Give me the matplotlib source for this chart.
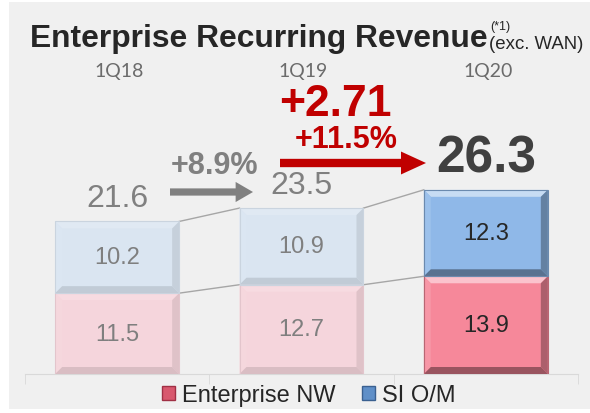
import matplotlib
matplotlib.use("Agg")
import matplotlib.pyplot as plt
from matplotlib.patches import Polygon, Rectangle, Patch
import numpy as np

# ---- data ----
categories = ["1Q18", "1Q19", "1Q20"]
enterprise_nw = [11.5, 12.7, 13.9]
si_om = [10.2, 10.9, 12.3]
totals = [21.6, 23.5, 26.3]
growth_1 = "+8.9%"
growth_2_abs = "+2.71"
growth_2_pct = "+11.5%"
series_names = ["Enterprise NW", "SI O/M"]

W, H = 590, 414
fig = plt.figure(figsize=(W / 100, H / 100), dpi=100)
fig.patch.set_facecolor("white")
fig.add_artist(Rectangle((9 / W, 4 / H), 1 - 9 / W, 1 - 7 / H, transform=fig.transFigure,
                         facecolor="#f0f0f0", edgecolor="none", zorder=0))

PX_PER_UNIT = 7.03
ax_left, ax_right, ax_bottom_px, ax_top_px = 25, 578, 375, 60
ymax = (ax_bottom_px - ax_top_px) / PX_PER_UNIT
ax = fig.add_axes([ax_left / W, (H - ax_bottom_px) / H, (ax_right - ax_left) / W,
                   (ax_bottom_px - ax_top_px) / H])
ax.set_facecolor("none")
ax.set_xlim(-0.5, 2.5)
ax.set_ylim(0, ymax)
cat_px = (ax_right - ax_left) / 3.0

def mix(c, other, t):
    c = np.array(matplotlib.colors.to_rgb(c))
    o = np.array(matplotlib.colors.to_rgb(other))
    return tuple(c * (1 - t) + o * t)

def bevel(x0, x1, y0, y1, color, strength):
    bx = 7 / cat_px
    by = 7 / PX_PER_UNIT
    face = Rectangle((x0, y0), x1 - x0, y1 - y0, facecolor=color, edgecolor="none", zorder=2)
    ax.add_patch(face)
    top = mix(color, "white", 0.5 * strength)
    left = mix(color, "white", 0.12 * strength)
    right = mix(color, "black", 0.3 * strength)
    bottom = mix(color, "black", 0.38 * strength)
    polys = [
        ([(x0, y1), (x1, y1), (x1 - bx, y1 - by), (x0 + bx, y1 - by)], top),
        ([(x0, y0), (x0, y1), (x0 + bx, y1 - by), (x0 + bx, y0 + by)], left),
        ([(x1, y0), (x1, y1), (x1 - bx, y1 - by), (x1 - bx, y0 + by)], right),
        ([(x0, y0), (x1, y0), (x1 - bx, y0 + by), (x0 + bx, y0 + by)], bottom),
    ]
    for pts, col in polys:
        ax.add_patch(Polygon(pts, closed=True, facecolor=col, edgecolor="none", zorder=3))
    ax.add_patch(Rectangle((x0, y0), x1 - x0, y1 - y0, facecolor="none",
                           edgecolor=mix(color, "black", 0.25 * strength), lw=0.8, zorder=4))

x = np.arange(len(categories))
bw = 124 / cat_px
nw_colors = ["#f5d5dc", "#f5d5dc", "#f6889a"]
si_colors = ["#dae5f1", "#dae5f1", "#8fb8e8"]
strengths = [0.3, 0.3, 1.0]
label_colors = ["#7f7f7f", "#7f7f7f", "#262626"]

# invisible bars through the library for scale / legend
bars_nw = ax.bar(x, enterprise_nw, width=bw, color="none", zorder=1)
bars_si = ax.bar(x, si_om, bottom=enterprise_nw, width=bw, color="none", zorder=1)

for i in range(len(categories)):
    x0, x1 = x[i] - bw / 2, x[i] + bw / 2
    bevel(x0, x1, 0, enterprise_nw[i], nw_colors[i], strengths[i])
    bevel(x0, x1, enterprise_nw[i], enterprise_nw[i] + si_om[i], si_colors[i], strengths[i])
    ax.text(x[i], enterprise_nw[i] / 2, f"{enterprise_nw[i]:.1f}", ha="center", va="center",
            fontsize=17, color=label_colors[i], family="Liberation Sans", zorder=5)
    ax.text(x[i], enterprise_nw[i] + si_om[i] / 2, f"{si_om[i]:.1f}", ha="center", va="center",
            fontsize=17, color=label_colors[i], family="Liberation Sans", zorder=5)

# connector lines
for i in range(len(categories) - 1):
    for yv in ([enterprise_nw[i], enterprise_nw[i + 1]],
               [enterprise_nw[i] + si_om[i], enterprise_nw[i + 1] + si_om[i + 1]]):
        ax.plot([x[i] + bw / 2, x[i + 1] - bw / 2], yv, color="#a6a6a6", lw=1.0, zorder=1)

# totals
for i in range(2):
    ax.text(x[i], totals[i] + 24 / PX_PER_UNIT, f"{totals[i]:.1f}", ha="center", va="center",
            fontsize=23, color="#808080", family="Liberation Sans")
ax.text(x[2], totals[2] + 31 / PX_PER_UNIT, f"{totals[2]:.1f}", ha="center", va="center",
        fontsize=37, color="#404040", fontweight="bold", family="Liberation Sans")

# category labels at top
for i, c in enumerate(categories):
    ax.text(x[i] + 2 / cat_px, (ax_bottom_px - 72) / PX_PER_UNIT, c, ha="center", va="center",
            fontsize=14, color="#6b6b6b", family="Lato")

def px2d(px, py):
    return ((px - ax_left) / cat_px - 0.5, (ax_bottom_px - py) / PX_PER_UNIT)

# growth annotations
gx, gy = px2d(215, 166)
ax.text(gx, gy, growth_1, ha="center", va="center", fontsize=22, fontweight="bold",
        color="#808080", family="Liberation Sans")
a0 = px2d(170, 193); a1 = px2d(253, 193)
ax.annotate("", xy=a1, xytext=a0,
            arrowprops=dict(arrowstyle="simple,head_length=1.25,head_width=1.45,tail_width=0.52",
                            mutation_scale=10, color="#808080", shrinkA=0, shrinkB=0, lw=0))

rx, ry = px2d(335, 104)
ax.text(rx, ry, growth_2_abs, ha="center", va="center", fontsize=32, fontweight="bold",
        color="#c00000", family="Liberation Sans")
rx, ry = px2d(346, 140)
ax.text(rx, ry, growth_2_pct, ha="center", va="center", fontsize=22, fontweight="bold",
        color="#c00000", family="Liberation Sans")
b0 = px2d(280, 164); b1 = px2d(426, 164)
ax.annotate("", xy=b1, xytext=b0,
            arrowprops=dict(arrowstyle="simple,head_length=1.8,head_width=1.65,tail_width=0.6",
                            mutation_scale=10, color="#c00000", shrinkA=0, shrinkB=0, lw=0))

# axes styling
for s in ["top", "left", "right"]:
    ax.spines[s].set_visible(False)
ax.spines["bottom"].set_color("#d9d9d9")
ax.set_yticks([])
ax.set_xticks([])
ax.set_xticks([-0.5, 0.5, 1.5, 2.5], minor=True)
ax.tick_params(axis="x", which="minor", length=7, color="#d9d9d9", labelbottom=False)

# title
fig.text(30 / W, (H - 47) / H, "Enterprise Recurring Revenue", ha="left", va="baseline",
         fontsize=22.9, fontweight="bold", color="#262626", family="Liberation Sans")
fig.text(490 / W, (H - 27) / H, "(*1)", ha="left", va="center", fontsize=9,
         color="#262626", family="Liberation Sans")
fig.text(489 / W, (H - 49) / H, "(exc. WAN)", ha="left", va="baseline", fontsize=13.4,
         color="#262626", family="Liberation Sans")

# legend
handles = [Patch(facecolor="#d8586e", edgecolor="#a03045"),
           Patch(facecolor="#5f8fc8", edgecolor="#3a6090")]
fig.legend(handles, series_names, loc="center", bbox_to_anchor=(309 / W, (H - 396) / H),
           ncol=2, frameon=False, handlelength=0.55, handleheight=0.55,
           handletextpad=0.3, columnspacing=1.1, prop={"family": "Liberation Sans", "size": 17},
           labelcolor="#262626")

fig.savefig("out.png", dpi=100, facecolor=fig.get_facecolor())
